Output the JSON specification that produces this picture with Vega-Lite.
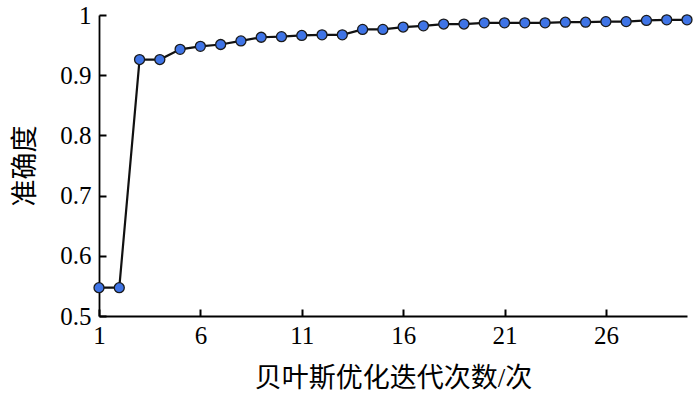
{
  "$schema": "https://vega.github.io/schema/vega-lite/v6.json",
  "width": 588,
  "height": 301,
  "autosize": "none",
  "padding": {"left": 99, "top": 15, "right": 13, "bottom": 85},
  "background": "white",
  "config": {
    "view": {"stroke": null},
    "axis": {
      "labelFont": "Liberation Serif",
      "titleFont": "Liberation Serif, Noto Sans CJK SC",
      "labelFontSize": 25,
      "titleFontSize": 27,
      "titleFontWeight": "normal",
      "labelColor": "black",
      "titleColor": "black",
      "domainColor": "black",
      "domainWidth": 1.8,
      "tickColor": "black",
      "tickWidth": 2,
      "tickSize": -7,
      "grid": false
    }
  },
  "data": {
    "values": [
      {"iter": 1, "acc": 0.547},
      {"iter": 2, "acc": 0.547},
      {"iter": 3, "acc": 0.926},
      {"iter": 4, "acc": 0.926},
      {"iter": 5, "acc": 0.943},
      {"iter": 6, "acc": 0.948},
      {"iter": 7, "acc": 0.951},
      {"iter": 8, "acc": 0.957},
      {"iter": 9, "acc": 0.963},
      {"iter": 10, "acc": 0.964},
      {"iter": 11, "acc": 0.966},
      {"iter": 12, "acc": 0.967},
      {"iter": 13, "acc": 0.967},
      {"iter": 14, "acc": 0.976},
      {"iter": 15, "acc": 0.976},
      {"iter": 16, "acc": 0.980},
      {"iter": 17, "acc": 0.982},
      {"iter": 18, "acc": 0.985},
      {"iter": 19, "acc": 0.985},
      {"iter": 20, "acc": 0.987},
      {"iter": 21, "acc": 0.987},
      {"iter": 22, "acc": 0.987},
      {"iter": 23, "acc": 0.987},
      {"iter": 24, "acc": 0.988},
      {"iter": 25, "acc": 0.988},
      {"iter": 26, "acc": 0.989},
      {"iter": 27, "acc": 0.989},
      {"iter": 28, "acc": 0.991},
      {"iter": 29, "acc": 0.992},
      {"iter": 30, "acc": 0.992}
    ]
  },
  "encoding": {
    "x": {
      "field": "iter",
      "type": "quantitative",
      "scale": {"domain": [1, 30], "nice": false, "zero": false},
      "axis": {
        "title": "贝叶斯优化迭代次数/次",
        "values": [1, 6, 11, 16, 21, 26],
        "labelPadding": 14,
        "titlePadding": 17,
        "labelFlush": false
      }
    },
    "y": {
      "field": "acc",
      "type": "quantitative",
      "scale": {"domain": [0.5, 1], "nice": false, "zero": false},
      "axis": {
        "title": "准确度",
        "values": [0.5, 0.6, 0.7, 0.8, 0.9, 1],
        "format": ".1~f",
        "labelPadding": 15,
        "titlePadding": 20,
        "labelFlush": false
      }
    }
  },
  "layer": [
    {"mark": {"type": "line", "color": "#111111", "strokeWidth": 2.2}},
    {"mark": {"type": "point", "filled": true, "fill": "#3f74e6", "stroke": "#1a1a1a", "strokeWidth": 1.3, "size": 100, "opacity": 1}}
  ]
}
